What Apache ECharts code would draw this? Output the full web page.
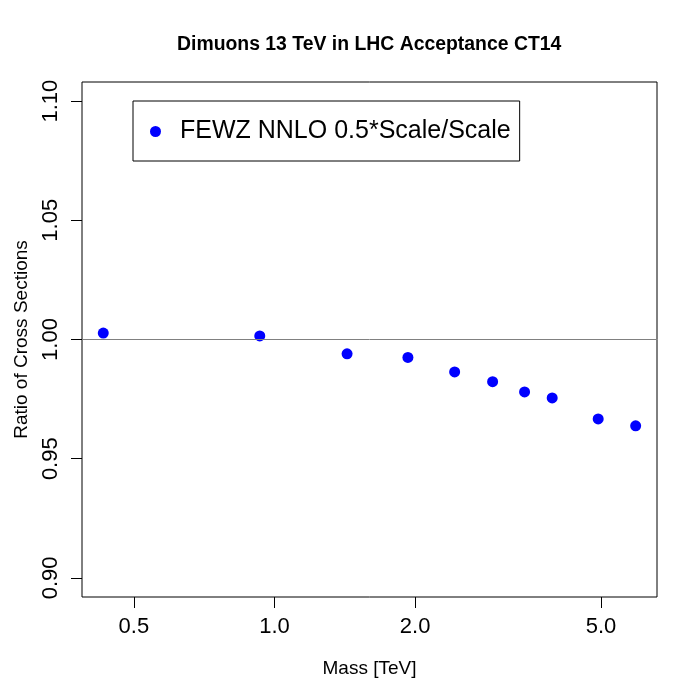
<!DOCTYPE html>
<html>
<head>
<meta charset="utf-8">
<script src="https://cdn.jsdelivr.net/npm/echarts@6/dist/echarts.min.js"></script>
<style>html,body{margin:0;padding:0;background:#fff;}#c{width:700px;height:700px;}</style>
</head>
<body>
<div id="c"></div>
<script>
const seriesName = 'FEWZ NNLO 0.5*Scale/Scale';
const masses = [0.43, 0.93, 1.43, 1.93, 2.43, 2.93, 3.43, 3.93, 4.93, 5.93];
const ratios = [1.0027, 1.0015, 0.9940, 0.9925, 0.9864, 0.9823, 0.9780, 0.9755, 0.9667, 0.9638];
const xTicks = [0.5, 1, 2, 5];
const yTicks = [0.90, 0.95, 1.00, 1.05, 1.10];
const refLine = 1.0;

const FONT = 'Liberation Sans';
const chart = echarts.init(document.getElementById('c'), null, {renderer: 'canvas'});
chart.setOption({
  backgroundColor: '#fff',
  animation: false,
  textStyle: {fontFamily: FONT},
  title: {
    text: 'Dimuons 13 TeV in LHC Acceptance CT14',
    left: 177,
    top: 35,
    padding: 0,
    textStyle: {fontFamily: FONT, fontSize: 19.4, fontWeight: 'bold', color: '#000'}
  },
  legend: {
    left: 133,
    top: 101,
    orient: 'vertical',
    data: [seriesName],
    icon: 'circle',
    itemWidth: 11,
    itemHeight: 11,
    padding: [18, 9, 17, 17],
    borderColor: '#000',
    borderWidth: 1,
    backgroundColor: '#fff',
    itemStyle: {opacity: 1},
    textStyle: {fontFamily: FONT, fontSize: 25, color: '#000', padding: [3, 0, 0, 14]}
  },
  grid: {
    left: 82, right: 43, top: 82, bottom: 103,
    show: true, borderColor: '#000', borderWidth: 1, backgroundColor: 'transparent'
  },
  xAxis: {
    type: 'log',
    logBase: 10,
    min: 0.3872,
    max: 6.588,
    name: 'Mass [TeV]',
    nameLocation: 'middle',
    nameGap: 62,
    nameTextStyle: {fontFamily: FONT, fontSize: 19, color: '#000'},
    axisLine: {show: false},
    axisTick: {show: true, length: 11, customValues: xTicks, lineStyle: {color: '#000'}},
    axisLabel: {customValues: xTicks, margin: 19, fontSize: 22, color: '#000', fontFamily: FONT,
      formatter: v => Number(v).toFixed(1)},
    splitLine: {show: false},
    minorTick: {show: false}
  },
  yAxis: {
    type: 'value',
    min: 0.892,
    max: 1.108,
    name: 'Ratio of Cross Sections',
    nameLocation: 'middle',
    nameGap: 51,
    nameRotate: 90,
    nameTextStyle: {fontFamily: FONT, fontSize: 19, color: '#000'},
    axisLine: {show: false},
    axisTick: {show: true, length: 11, customValues: yTicks, lineStyle: {color: '#000'}},
    axisLabel: {customValues: yTicks, rotate: 90, margin: 20, fontSize: 22, color: '#000', fontFamily: FONT,
      formatter: v => Number(v).toFixed(2)},
    splitLine: {show: false}
  },
  series: [{
    name: seriesName,
    type: 'scatter',
    symbol: 'circle',
    symbolSize: 11,
    itemStyle: {color: '#0000FF', opacity: 1},
    data: masses.map((m, i) => [m, ratios[i]]),
    markLine: {
      silent: true,
      symbol: ['none', 'none'],
      label: {show: false},
      lineStyle: {color: '#808080', type: 'solid', width: 1},
      data: [{yAxis: refLine}]
    },
    z: 3
  }]
});
</script>
</body>
</html>
